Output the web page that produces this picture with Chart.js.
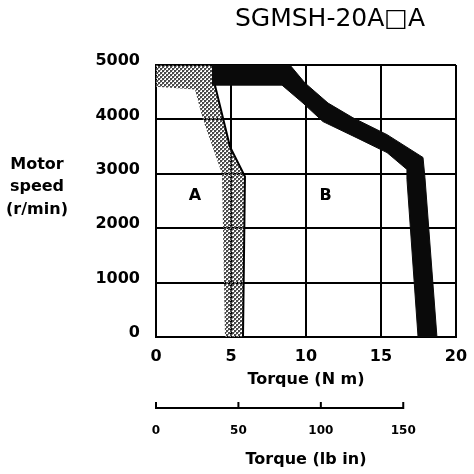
<!DOCTYPE html>
<html>
<head>
<meta charset="utf-8">
<script src="https://cdn.jsdelivr.net/npm/chart.js@4.4.1/dist/chart.umd.min.js"></script>
<style>
  html, body { margin: 0; padding: 0; background: #fff; }
  #wrap { width: 474px; height: 474px; }
</style>
</head>
<body>
<div id="wrap"><canvas id="torqueChart" width="474" height="474"></canvas></div>
<script>
const speedTicks = [0, 1000, 2000, 3000, 4000, 5000];
const torqueTicks = [0, 5, 10, 15, 20];
const lbInTicks = [0, 50, 100, 150];

// Zone B (intermittent) band: outer edge, then inner edge back up
const zoneBTorque = [3.73, 8.93, 9.93, 11.47, 13.13, 15.4, 17.8, 17.93, 18.73, 17.47, 16.73, 16.73, 15.4, 13.4, 11.13, 9.8, 8.4, 3.73];
const zoneBSpeed  = [5000, 5000, 4670, 4300, 4030, 3720, 3300, 2930, 0, 0, 2900, 3080, 3390, 3660, 3960, 4300, 4630, 4630];

// Zone A (continuous) shaded band
const zoneATorque = [0, 3.73, 3.93, 4.93, 5.93, 5.8, 4.6, 4.4, 3.13, 2.6, 0];
const zoneASpeed  = [5000, 5000, 4630, 3500, 2950, 0, 0, 3000, 4000, 4550, 4600];

// continuous duty limit line
const limitTorque = [3.93, 4.93, 5.93, 5.8];
const limitSpeed  = [4630, 3500, 2950, 0];

// zone letters
const zoneLabels = ['A', 'B'];
const zoneLabelTorque = [2.6, 11.3];
const zoneLabelSpeed = [2600, 2600];

const toPoints = (xs, ys) => xs.map((x, i) => ({ x: x, y: ys[i] }));
const asTicks = arr => arr.map(v => ({ value: v }));

Chart.defaults.font.family = '"DejaVu Sans", "Liberation Sans", sans-serif';
Chart.defaults.font.weight = 'bold';
Chart.defaults.color = '#000';

const canvas = document.getElementById('torqueChart');
const ctx = canvas.getContext('2d');

// coarse dotted screen used for zone A
function makeDotPattern() {
    const c = document.createElement('canvas');
    c.width = 4; c.height = 4;
    const g = c.getContext('2d');
    g.fillStyle = '#4a4a4a';
    g.fillRect(0, 0, 2, 2);
    g.fillRect(2, 2, 2, 2);
    g.fillStyle = '#9a9a9a';
    g.fillRect(2, 0, 1, 1);
    g.fillRect(0, 2, 1, 1);
    return ctx.createPattern(c, 'repeat');
}

// texts and the lb-in scale line, placed from the chart's scales
const sheetText = {
    id: 'sheetText',
    afterDraw(chart) {
        const { ctx, chartArea, scales } = chart;
        const xs = scales.x, ys = scales.y, x2 = scales.x2;
        ctx.save();
        ctx.fillStyle = '#000';
        ctx.strokeStyle = '#000';
        ctx.textAlign = 'center';
        ctx.textBaseline = 'middle';

        // header
        ctx.font = '25px "DejaVu Sans"';
        ctx.fillText('SGMSH-20A\u25A1A', chartArea.right - 126, 19);

        // y axis caption, stacked
        ctx.font = 'bold 16px "DejaVu Sans"';
        const yMid = ys.getPixelForValue(3000);
        ['Motor', 'speed', '(r/min)'].forEach((t, i) => {
            ctx.fillText(t, 37, yMid - 9 + i * 22.5);
        });

        // zone letters
        zoneLabels.forEach((t, i) => {
            ctx.fillText(t, xs.getPixelForValue(zoneLabelTorque[i]), ys.getPixelForValue(zoneLabelSpeed[i]));
        });

        // lb-in scale bar
        const lineY = x2.top + 16;
        const x0 = x2.getPixelForValue(lbInTicks[0]);
        const x1 = x2.getPixelForValue(lbInTicks[lbInTicks.length - 1]);
        ctx.lineWidth = 2;
        ctx.beginPath();
        ctx.moveTo(x0, lineY);
        ctx.lineTo(x1, lineY);
        lbInTicks.forEach(v => {
            const px = x2.getPixelForValue(v);
            ctx.moveTo(px, lineY + 1);
            ctx.lineTo(px, lineY - 6);
        });
        ctx.stroke();
        ctx.restore();
    }
};

new Chart(ctx, {
    type: 'scatter',
    data: {
        datasets: [
            {
                label: 'Continuous limit',
                data: toPoints(limitTorque, limitSpeed),
                showLine: true,
                borderColor: '#000',
                borderWidth: 2,
                pointRadius: 0,
                fill: false
            },
            {
                label: 'Zone B',
                data: toPoints(zoneBTorque, zoneBSpeed),
                showLine: true,
                borderColor: '#0a0a0a',
                borderWidth: 1,
                backgroundColor: '#0a0a0a',
                pointRadius: 0,
                fill: 'shape'
            },
            {
                label: 'Zone A',
                data: toPoints(zoneATorque, zoneASpeed),
                showLine: true,
                borderWidth: 0,
                borderColor: 'rgba(0,0,0,0)',
                backgroundColor: makeDotPattern(),
                pointRadius: 0,
                fill: 'shape'
            }
        ]
    },
    options: {
        responsive: false,
        animation: false,
        layout: { padding: { left: 0, right: 18, top: 65, bottom: 0 } },
        plugins: {
            legend: { display: false },
            tooltip: { enabled: false },
            title: { display: false }
        },
        scales: {
            x: {
                type: 'linear',
                position: 'bottom',
                weight: 0,
                min: 0,
                max: 20,
                afterBuildTicks: s => { s.ticks = asTicks(torqueTicks); },
                afterFit: s => { s.height = 55; s.paddingLeft = 0; s.paddingRight = 0; },
                grid: { color: '#000', lineWidth: 2, drawTicks: false },
                border: { color: '#000', width: 2 },
                ticks: { padding: 10, font: { size: 16 }, color: '#000', autoSkip: false, maxRotation: 0 },
                title: { display: true, text: 'Torque (N m)', font: { size: 16 }, color: '#000', padding: { top: 0, bottom: 3 } }
            },
            x2: {
                type: 'linear',
                position: 'bottom',
                weight: 1,
                min: 0,
                max: 182,
                afterBuildTicks: s => { s.ticks = asTicks(lbInTicks); },
                afterFit: s => { s.height = 82; s.paddingLeft = 0; s.paddingRight = 0; },
                grid: { display: false, drawTicks: false },
                border: { display: false },
                ticks: { padding: 32, font: { size: 12 }, color: '#000', autoSkip: false, maxRotation: 0 },
                title: { display: true, text: 'Torque (lb in)', font: { size: 16 }, color: '#000', padding: { top: 0, bottom: 5 } }
            },
            y: {
                type: 'linear',
                position: 'left',
                min: 0,
                max: 5000,
                afterBuildTicks: s => { s.ticks = asTicks(speedTicks); },
                afterFit: s => { s.width = 156; s.paddingTop = 0; s.paddingBottom = 0; },
                grid: { color: '#000', lineWidth: 2, drawTicks: false },
                border: { color: '#000', width: 2 },
                ticks: {
                    padding: 16,
                    labelOffset: -4,
                    font: { size: 16 },
                    color: '#000',
                    callback: v => String(v)
                }
            }
        }
    },
    plugins: [sheetText]
});
</script>
</body>
</html>
